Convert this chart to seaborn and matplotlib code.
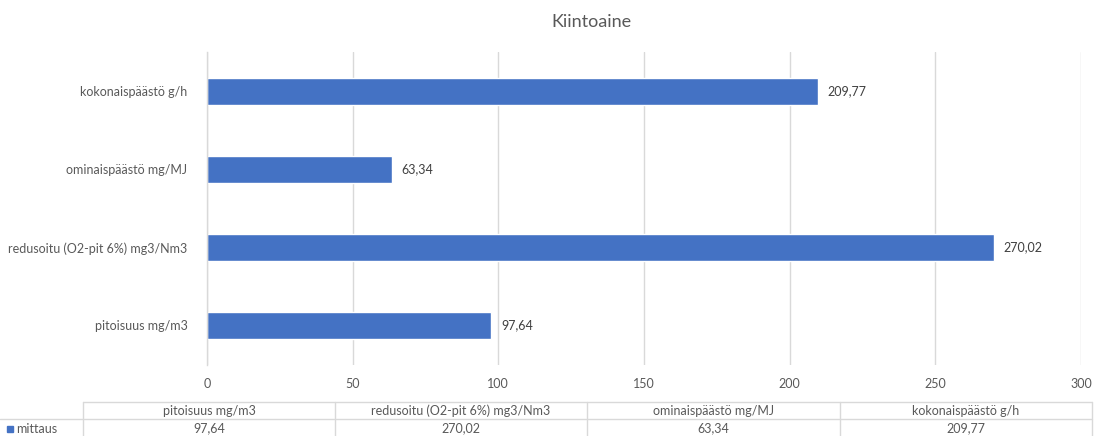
import matplotlib
matplotlib.use("Agg")
import matplotlib.pyplot as plt
import seaborn as sns
import pandas as pd
from matplotlib.lines import Line2D
from matplotlib.patches import Rectangle

# Data
categories = ["pitoisuus mg/m3", "redusoitu (O2-pit 6%) mg3/Nm3",
              "ominaispäästö mg/MJ", "kokonaispäästö g/h"]
values = [97.64, 270.02, 63.34, 209.77]
series_name = "mittaus"
title = "Kiintoaine"
x_ticks = [0, 50, 100, 150, 200, 250, 300]

BAR = "#4472C4"
TXT = "#595959"
GRID = "#D9D9D9"

sns.set_theme(style="white")
plt.rcParams["font.family"] = ["Lato", "DejaVu Sans"]

W, H = 1096, 436
fig = plt.figure(figsize=(W / 100, H / 100), dpi=100)

def fx(px):
    return px / W

def fy(py):
    return 1 - py / H

ax_left, ax_right, ax_top, ax_bottom = 207, 1081, 52.5, 364.5
ax = fig.add_axes([fx(ax_left), fy(ax_bottom), fx(ax_right - ax_left),
                   (ax_bottom - ax_top) / H])

df = pd.DataFrame({"kategoria": categories, "arvo": values})
order = categories[::-1]  # first category at the bottom
sns.barplot(data=df, y="kategoria", x="arvo", order=order, orient="h",
            color=BAR, saturation=1, width=0.35, ax=ax)

ax.set_xlim(0, 300)
ax.set_xticks(x_ticks)
ax.set_xticklabels([str(t) for t in x_ticks])
ax.set_xlabel("")
ax.set_ylabel("")
ax.xaxis.grid(True, color=GRID, linewidth=1)
ax.set_axisbelow(True)
for side in ["top", "right", "bottom"]:
    ax.spines[side].set_visible(False)
ax.spines["left"].set_color(GRID)
ax.spines["left"].set_linewidth(1)
ax.tick_params(axis="both", length=0, colors=TXT, labelsize=9)
ax.tick_params(axis="y", pad=14)
ax.tick_params(axis="x", pad=10)

for cont in ax.containers:
    ax.bar_label(cont, labels=[f"{v:.2f}".replace(".", ",") for v in cont.datavalues],
                 padding=7, color="#404040", fontsize=9)

fig.text(fx(591), fy(22), title, ha="center", va="center",
         fontsize=13, color=TXT)

# Data table below the chart
col_edges = [83, 335, 587, 840, 1092]
row_top, row_mid, row_bot = 402, 419, 436
def hline(x0, x1, y):
    fig.add_artist(Line2D([fx(x0), fx(x1)], [fy(y), fy(y)],
                          transform=fig.transFigure, color=GRID, linewidth=1))

def vline(x, y0, y1):
    fig.add_artist(Line2D([fx(x), fx(x)], [fy(y0), fy(y1)],
                          transform=fig.transFigure, color=GRID, linewidth=1))

hline(col_edges[0], col_edges[-1], row_top)
hline(0, col_edges[-1], row_mid)
for x in col_edges:
    vline(x, row_top, row_bot)

for i, (cat, val) in enumerate(zip(categories, values)):
    cx = (col_edges[i] + col_edges[i + 1]) / 2
    fig.text(fx(cx), fy((row_top + row_mid) / 2), cat, ha="center",
             va="center", fontsize=9, color=TXT)
    fig.text(fx(cx), fy((row_mid + row_bot) / 2 + 1),
             f"{val:.2f}".replace(".", ","), ha="center", va="center",
             fontsize=9, color=TXT)

fig.add_artist(Rectangle((fx(7), fy(432)), fx(6), 6 / H,
                         transform=fig.transFigure, color=BAR))
fig.text(fx(16), fy(428.5), series_name, ha="left", va="center",
         fontsize=9, color=TXT)

fig.savefig("out.png", dpi=100, facecolor="white")
